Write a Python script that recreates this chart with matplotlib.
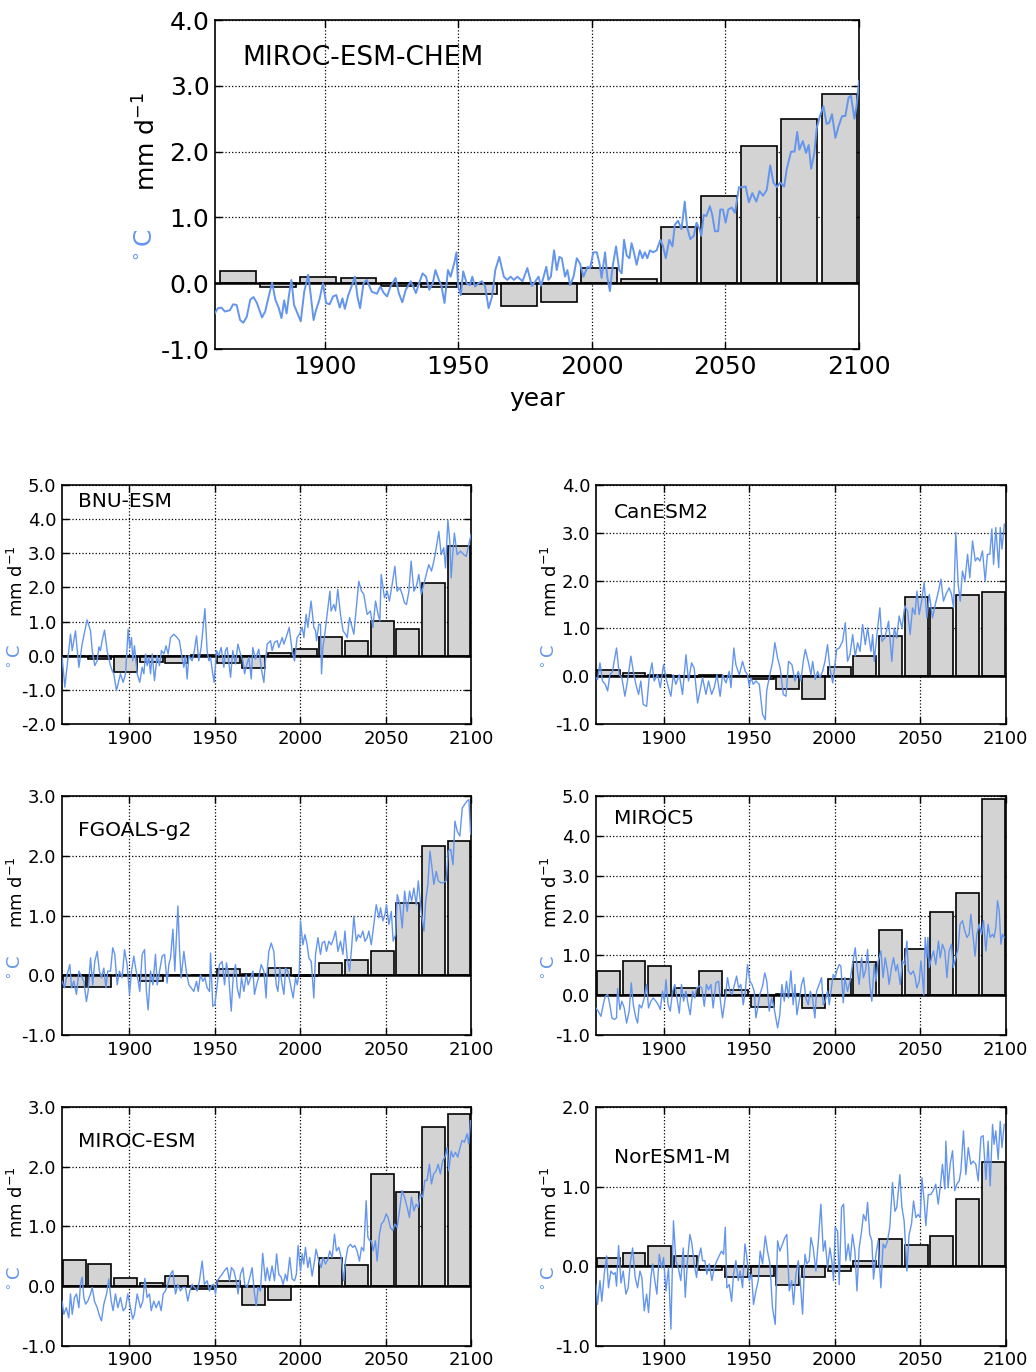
import matplotlib
matplotlib.use('Agg')
import matplotlib.pyplot as plt

plt.rcParams['font.family'] = ['DejaVu Sans']
plt.rcParams['mathtext.default'] = 'regular'

# start year of each 15-year period (bars)
period_start = [1861, 1876, 1891, 1906, 1921, 1936, 1951, 1966,
                1981, 1996, 2011, 2026, 2041, 2056, 2071, 2086]

# precipitation anomaly per period (mm/d)
chem_bars = [0.19, -0.06, 0.09, 0.08, -0.04, -0.06, -0.17, -0.34,
             -0.28, 0.23, 0.06, 0.86, 1.32, 2.09, 2.49, 2.88]
bnu_bars = [0.0, -0.1, -0.49, -0.17, -0.21, 0.02, -0.21, -0.37,
            0.09, 0.19, 0.55, 0.42, 1.02, 0.78, 2.12, 3.2]
can_bars = [0.12, 0.06, 0.03, -0.01, 0.02, 0.01, -0.06, -0.27,
            -0.48, 0.19, 0.42, 0.85, 1.66, 1.42, 1.7, 1.76]
fgoals_bars = [-0.19, -0.2, 0.0, -0.1, 0.0, 0.0, 0.11, 0.02,
               0.12, -0.02, 0.21, 0.26, 0.41, 1.21, 2.17, 2.25]
miroc5_bars = [0.61, 0.87, 0.74, 0.18, 0.6, 0.13, -0.29, 0.03,
               -0.32, 0.41, 0.83, 1.63, 1.17, 2.09, 2.56, 4.92]
mesm_bars = [0.44, 0.37, 0.13, 0.06, 0.17, -0.05, 0.08, -0.32,
             -0.23, 0.01, 0.47, 0.35, 1.87, 1.58, 2.67, 2.89]
nor_bars = [0.1, 0.17, 0.26, 0.13, -0.05, -0.13, -0.12, -0.23,
            -0.13, -0.06, 0.07, 0.34, 0.27, 0.38, 0.84, 1.31]

# temperature anomaly (year, degC)
chem_line = [
    (1858.6, -0.48), (1860.1, -0.38), (1861.4, -0.37), (1862.7, -0.43), (1864.6, -0.41),
    (1865.8, -0.32), (1867.1, -0.33), (1868.4, -0.56), (1869.6, -0.6), (1870.9, -0.51),
    (1872.2, -0.25), (1873.4, -0.21), (1874.7, -0.3), (1876.6, -0.52), (1877.8, -0.43),
    (1879.1, -0.2), (1880.4, 0.01), (1881.6, -0.25), (1882.9, -0.38), (1883.9, -0.53),
    (1884.9, -0.26), (1885.8, -0.46), (1886.7, -0.18), (1887.6, 0.05), (1888.6, -0.33),
    (1889.6, -0.43), (1891.1, -0.58), (1892.4, -0.13), (1893.9, 0.13), (1894.9, -0.2),
    (1895.9, -0.56), (1896.8, -0.41), (1898.1, -0.25), (1899.4, 0.0), (1900.6, -0.3),
    (1901.9, -0.32), (1903.2, -0.2), (1904.4, -0.18), (1905.7, -0.37), (1906.7, -0.23),
    (1907.6, -0.39), (1908.9, -0.18), (1910.1, -0.05), (1911.4, 0.1), (1912.3, -0.2),
    (1913.3, -0.38), (1914.6, 0.0), (1915.8, 0.05), (1917.7, -0.13), (1919.6, -0.16),
    (1920.9, -0.05), (1922.2, -0.15), (1923.4, -0.2), (1924.7, -0.05), (1926.6, 0.08),
    (1927.8, -0.15), (1929.1, -0.29), (1930.4, -0.1), (1932.3, 0.03), (1934.2, -0.15),
    (1935.4, 0.0), (1936.7, 0.15), (1938.0, 0.1), (1939.2, -0.1), (1940.5, 0.0),
    (1941.5, 0.2), (1942.8, 0.05), (1943.7, -0.03), (1944.9, -0.3), (1946.2, 0.2),
    (1947.2, 0.1), (1948.5, 0.3), (1949.4, 0.47), (1950.0, -0.05), (1951.0, -0.18),
    (1951.9, 0.18), (1953.2, 0.0), (1954.4, -0.03), (1955.3, 0.1), (1956.3, -0.05),
    (1957.6, 0.0), (1958.9, 0.03), (1960.1, -0.05), (1961.4, -0.38), (1962.7, -0.2),
    (1963.9, 0.2), (1965.4, 0.4), (1967.1, 0.1), (1968.4, 0.05), (1969.6, 0.1),
    (1970.9, 0.05), (1972.2, 0.1), (1974.1, 0.03), (1975.9, 0.23), (1977.6, -0.04),
    (1978.9, 0.03), (1980.1, 0.1), (1981.0, -0.04), (1982.0, 0.1), (1983.0, 0.25),
    (1983.8, 0.05), (1984.7, 0.1), (1985.9, 0.5), (1986.9, 0.2), (1987.9, 0.4),
    (1988.8, 0.38), (1990.0, 0.1), (1990.9, 0.2), (1991.9, -0.03), (1993.2, 0.1),
    (1994.4, 0.38), (1995.6, 0.3), (1996.9, 0.1), (1998.4, 0.25), (1999.4, 0.23),
    (2000.6, 0.47), (2001.9, 0.47), (2002.9, 0.3), (2003.7, 0.08), (2005.0, 0.47),
    (2005.8, 0.1), (2006.8, -0.12), (2007.8, 0.25), (2009.1, 0.56), (2010.3, 0.2),
    (2011.2, 0.15), (2012.1, 0.66), (2013.1, 0.42), (2014.1, 0.38), (2014.9, 0.61),
    (2015.8, 0.47), (2016.8, 0.28), (2018.0, 0.5), (2019.0, 0.38), (2019.9, 0.47),
    (2020.8, 0.38), (2021.8, 0.5), (2023.0, 0.47), (2024.3, 0.5), (2025.7, 0.66),
    (2026.7, 0.56), (2027.7, 0.38), (2029.0, 0.66), (2030.2, 0.56), (2031.1, 0.89),
    (2032.3, 0.95), (2033.6, 0.82), (2034.8, 1.24), (2035.7, 0.85), (2036.9, 0.67),
    (2038.2, 0.72), (2039.2, 0.92), (2040.4, 0.82), (2041.0, 0.72), (2041.9, 1.04),
    (2042.9, 1.02), (2044.2, 1.17), (2045.1, 1.04), (2046.1, 0.79), (2047.3, 0.79),
    (2048.1, 1.12), (2049.1, 1.12), (2050.1, 0.92), (2051.1, 1.12), (2052.4, 1.15),
    (2053.6, 1.07), (2055.1, 1.46), (2056.6, 1.46), (2057.6, 1.47), (2058.8, 1.23),
    (2060.1, 1.37), (2061.6, 1.24), (2062.8, 1.4), (2064.1, 1.33), (2065.5, 1.42),
    (2066.8, 1.79), (2068.0, 1.53), (2069.3, 1.46), (2070.5, 1.53), (2072.0, 1.47),
    (2073.0, 1.74), (2074.6, 2.0), (2075.9, 2.0), (2076.9, 2.3), (2077.7, 2.03),
    (2079.0, 2.16), (2080.2, 1.98), (2081.2, 2.1), (2082.1, 1.74), (2083.3, 1.98),
    (2084.2, 2.36), (2085.4, 2.54), (2086.7, 2.69), (2087.9, 2.42), (2088.9, 2.44),
    (2089.9, 2.57), (2091.2, 2.21), (2092.4, 2.39), (2093.7, 2.54), (2094.9, 2.54),
    (2096.1, 2.82), (2097.0, 2.85), (2098.3, 2.5), (2099.1, 2.69), (2100.0, 3.07)]

bnu_line = [
    (1860.6, -0.05), (1862.2, -0.92), (1865.5, 0.63), (1866.5, 0.15), (1868.4, 0.73),
    (1870.4, -0.34), (1872.3, 0.34), (1874.3, 0.83), (1875.2, 1.05), (1877.2, 0.73),
    (1878.2, 0.15), (1879.7, -0.29), (1881.1, -0.15), (1882.1, 0.26), (1883.0, 0.15),
    (1884.0, 0.44), (1885.4, 0.75), (1886.9, 0.15), (1888.9, -0.29), (1889.9, -0.44),
    (1890.8, -0.53), (1892.4, -1.02), (1893.8, -0.73), (1894.7, -0.53), (1896.3, -0.78),
    (1897.7, -0.53), (1899.2, 0.78), (1900.2, 0.24), (1901.2, 0.53), (1901.9, -0.15),
    (1902.9, 0.29), (1904.5, -0.53), (1906.0, -0.78), (1907.4, -0.34), (1908.4, -0.53),
    (1909.4, 0.05), (1910.3, -0.29), (1911.3, -0.05), (1912.3, -0.53), (1913.3, 0.05),
    (1914.6, -0.73), (1916.2, 0.0), (1917.5, -0.29), (1918.7, 0.15), (1920.1, 0.05),
    (1921.4, 0.29), (1922.6, 0.05), (1924.0, 0.53), (1925.9, 0.63), (1927.9, 0.53),
    (1929.2, 0.44), (1930.4, 0.05), (1931.8, -0.34), (1932.7, 0.0), (1933.7, -0.68),
    (1934.7, 0.0), (1936.6, -0.15), (1937.6, 0.05), (1939.2, 0.58), (1940.5, -0.15),
    (1941.9, 0.24), (1944.1, 1.38), (1945.4, 0.15), (1946.4, -0.15), (1947.4, -0.05),
    (1948.7, -0.53), (1949.5, -0.78), (1950.9, 0.15), (1952.2, 0.0), (1953.6, 0.24),
    (1955.2, -0.34), (1956.1, 0.15), (1957.1, 0.24), (1959.1, -0.63), (1960.4, 0.15),
    (1962.0, -0.24), (1963.4, 0.34), (1964.9, 0.05), (1966.3, -0.15), (1967.3, -0.53),
    (1968.4, -0.29), (1969.8, -0.05), (1971.2, -0.68), (1972.1, 0.24), (1973.7, -0.1),
    (1975.6, 0.19), (1977.6, -0.53), (1978.6, -0.78), (1979.5, -0.15), (1980.5, 0.34),
    (1982.5, 0.44), (1983.4, 0.15), (1984.8, 0.39), (1986.4, 0.44), (1987.3, 0.24),
    (1989.3, 0.53), (1990.3, 0.34), (1992.2, 0.63), (1993.4, 0.83), (1995.1, 0.15),
    (1996.5, -0.15), (1998.0, 0.53), (1999.4, 0.63), (2001.0, 0.83), (2002.0, 0.53),
    (2003.3, 1.21), (2004.3, 0.83), (2006.2, 1.6), (2007.8, 0.83), (2008.8, 0.73),
    (2009.4, 0.44), (2010.7, 0.92), (2011.7, 0.92), (2012.3, -0.53), (2013.1, 0.24),
    (2014.2, 0.63), (2017.2, 1.89), (2017.9, 1.31), (2019.5, 1.5), (2020.5, 1.31),
    (2021.8, 1.94), (2023.4, 1.21), (2024.9, 0.73), (2026.3, 0.63), (2027.3, 0.53),
    (2028.7, 1.12), (2031.2, 0.63), (2034.1, 2.18), (2035.7, 1.89), (2037.0, 1.8),
    (2039.0, 1.21), (2040.9, 1.31), (2042.3, 0.83), (2043.9, 1.6), (2045.4, 1.21),
    (2046.4, 1.02), (2047.2, 2.38), (2049.1, 1.7), (2050.7, 1.89), (2052.0, 1.6),
    (2053.6, 2.09), (2055.2, 2.62), (2056.5, 1.89), (2058.1, 1.99), (2059.5, 1.8),
    (2060.8, 1.55), (2062.0, 1.5), (2063.4, 1.89), (2064.7, 2.77), (2066.3, 1.89),
    (2067.8, 2.04), (2069.2, 2.38), (2070.6, 1.8), (2072.1, 2.09), (2075.0, 2.67),
    (2076.6, 2.48), (2078.0, 2.77), (2078.9, 3.01), (2080.9, 3.64), (2082.3, 2.96),
    (2083.8, 3.16), (2084.8, 2.57), (2086.2, 3.98), (2087.3, 3.35), (2088.1, 2.28),
    (2089.1, 3.01), (2090.0, 3.59), (2091.6, 2.96), (2093.6, 3.06), (2095.5, 2.96),
    (2096.9, 2.91), (2098.4, 3.25), (2099.8, 3.56)]

can_line = [
    (1860.4, -0.03), (1861.4, -0.07), (1862.8, 0.28), (1864.3, -0.1), (1865.9, -0.17),
    (1867.3, -0.31), (1868.6, 0.03), (1870.2, 0.1), (1871.1, 0.31), (1872.5, 0.59),
    (1874.1, 0.03), (1875.6, -0.03), (1877.4, -0.42), (1878.9, -0.1), (1880.9, 0.42),
    (1882.3, 0.1), (1883.8, -0.17), (1885.4, -0.38), (1886.7, -0.1), (1888.1, -0.59),
    (1890.1, -0.63), (1891.6, -0.03), (1893.2, 0.28), (1894.5, -0.1), (1896.5, 0.03),
    (1898.1, -0.24), (1900.0, 0.24), (1901.4, -0.03), (1902.9, -0.24), (1904.3, -0.42),
    (1905.7, 0.03), (1907.2, -0.17), (1909.2, 0.03), (1911.1, -0.38), (1913.1, 0.45),
    (1914.6, -0.1), (1916.4, 0.28), (1917.9, 0.17), (1919.9, -0.56), (1921.3, -0.31),
    (1922.8, -0.03), (1924.8, -0.38), (1926.3, -0.1), (1928.1, -0.38), (1929.6, -0.24),
    (1931.2, 0.03), (1933.1, -0.42), (1934.5, 0.03), (1936.5, -0.14), (1938.4, 0.1),
    (1939.4, -0.24), (1941.1, 0.59), (1942.3, 0.24), (1944.3, 0.03), (1946.2, 0.31),
    (1947.8, 0.1), (1949.1, 0.03), (1950.1, -0.21), (1951.1, -0.03), (1952.5, -0.17),
    (1954.0, -0.1), (1956.0, -0.17), (1957.9, -0.8), (1959.5, -0.91), (1960.3, -0.31),
    (1961.8, -0.03), (1963.8, 0.31), (1965.1, 0.7), (1966.7, 0.38), (1968.2, 0.17),
    (1970.0, -0.38), (1971.6, -0.42), (1973.1, 0.31), (1975.1, 0.24), (1976.8, -0.1),
    (1978.8, 0.1), (1980.3, -0.1), (1981.7, 0.31), (1982.9, 0.56), (1984.6, 0.31),
    (1986.2, 0.03), (1987.2, 0.31), (1988.7, -0.07), (1990.1, 0.1), (1991.5, -0.03),
    (1993.0, 0.1), (1994.4, 0.31), (1995.9, 0.66), (1997.3, 0.17), (1998.9, -0.14),
    (1999.8, 0.1), (2001.2, 0.56), (2002.8, 0.59), (2004.7, 0.73), (2006.3, 1.12),
    (2007.6, 0.31), (2009.0, 0.45), (2010.6, 0.87), (2012.1, 0.42), (2013.5, 0.7),
    (2014.9, 0.52), (2016.4, 1.08), (2018.0, 0.66), (2019.3, 1.01), (2021.3, 0.52),
    (2022.3, 0.87), (2023.2, 0.31), (2025.2, 1.01), (2026.5, 1.43), (2027.7, 0.73),
    (2029.4, 0.8), (2031.6, 1.15), (2033.5, 0.31), (2034.9, 1.01), (2036.3, 0.8),
    (2037.8, 1.26), (2039.4, 1.01), (2041.1, 1.47), (2042.7, 1.36), (2044.2, 0.87),
    (2045.6, 1.43), (2047.0, 1.29), (2048.2, 1.78), (2049.5, 1.29), (2050.9, 1.57),
    (2052.4, 1.96), (2054.0, 1.22), (2055.4, 1.71), (2057.3, 1.22), (2058.9, 1.5),
    (2060.8, 1.78), (2062.2, 2.03), (2063.7, 1.57), (2065.1, 1.71), (2067.0, 1.85),
    (2068.4, 1.71), (2069.6, 1.43), (2070.9, 3.01), (2072.3, 1.92), (2073.5, 1.57),
    (2074.8, 2.2), (2076.2, 1.99), (2077.8, 2.55), (2079.1, 2.06), (2080.7, 2.83),
    (2082.3, 2.41), (2083.6, 2.48), (2085.0, 2.41), (2086.5, 2.62), (2088.1, 1.99),
    (2089.4, 2.55), (2090.8, 2.55), (2092.0, 3.08), (2093.0, 2.34), (2094.3, 3.11),
    (2096.0, 2.27), (2096.9, 3.11), (2097.9, 2.66), (2099.3, 3.18)]

fgoals_line = [
    (1860.6, -0.1), (1862.0, -0.21), (1863.5, 0.01), (1865.1, 0.18), (1866.1, -0.21),
    (1867.4, -0.1), (1869.0, -0.32), (1870.4, 0.07), (1871.9, -0.02), (1873.3, -0.1),
    (1874.8, -0.44), (1875.8, -0.27), (1877.2, 0.29), (1878.5, -0.16), (1879.7, 0.23),
    (1881.1, 0.4), (1882.4, 0.07), (1883.6, -0.04), (1885.0, 0.12), (1886.2, -0.21),
    (1887.3, 0.07), (1888.9, 0.07), (1890.2, 0.46), (1891.4, 0.35), (1892.8, -0.16),
    (1894.1, 0.07), (1895.7, -0.04), (1897.1, 0.43), (1898.6, 0.18), (1900.0, -0.32),
    (1901.2, 0.07), (1902.5, 0.32), (1903.9, 0.07), (1905.1, -0.1), (1906.0, -0.27),
    (1907.4, 0.35), (1908.8, 0.43), (1909.9, -0.27), (1910.9, -0.58), (1912.3, 0.07),
    (1913.7, -0.16), (1915.2, 0.35), (1916.2, -0.16), (1917.6, 0.07), (1919.1, 0.32),
    (1920.5, 0.35), (1922.0, -0.13), (1923.0, 0.18), (1924.0, 0.29), (1925.4, 0.77),
    (1926.5, 0.07), (1928.3, 1.16), (1929.3, 0.4), (1930.2, -0.04), (1931.8, 0.4),
    (1933.2, 0.07), (1934.7, -0.16), (1936.1, -0.21), (1937.6, -0.27), (1939.2, -0.1),
    (1940.2, -0.27), (1941.5, 0.01), (1942.9, -0.1), (1944.1, -0.04), (1945.4, -0.21),
    (1946.8, -0.27), (1947.4, 0.37), (1948.7, -0.52), (1949.9, -0.49), (1951.3, -0.16),
    (1952.6, 0.18), (1954.2, 0.23), (1955.6, -0.16), (1956.7, 0.21), (1958.1, -0.04),
    (1959.5, -0.6), (1960.6, -0.04), (1962.0, 0.18), (1963.0, -0.21), (1964.4, -0.38),
    (1965.5, -0.04), (1966.9, -0.27), (1968.3, 0.01), (1969.4, -0.16), (1970.8, -0.04),
    (1972.2, 0.07), (1973.1, -0.32), (1974.3, -0.16), (1975.7, -0.02), (1977.0, 0.18),
    (1978.6, 0.07), (1979.9, -0.38), (1980.5, 0.07), (1981.5, 0.4), (1982.9, 0.54),
    (1984.4, 0.4), (1985.8, -0.16), (1986.8, -0.27), (1987.9, 0.12), (1989.3, -0.16),
    (1990.3, -0.32), (1991.3, 0.12), (1992.6, 0.07), (1994.2, -0.16), (1995.7, -0.38),
    (1997.1, -0.04), (1998.1, -0.16), (1999.3, 0.07), (2000.0, 0.91), (2001.4, 0.51),
    (2002.6, 0.68), (2003.9, 0.51), (2004.9, 0.29), (2006.3, 0.23), (2007.8, -0.38),
    (2008.8, 0.35), (2010.2, 0.63), (2011.7, 0.35), (2012.7, 0.54), (2014.1, 0.57),
    (2015.2, 0.4), (2016.6, 0.57), (2018.0, 0.51), (2019.5, 0.63), (2020.5, 0.74),
    (2021.9, 0.4), (2023.4, 0.57), (2024.8, 0.35), (2026.0, 0.74), (2027.3, 0.29),
    (2028.7, 0.07), (2029.9, 0.46), (2031.2, 0.99), (2032.6, 0.57), (2033.8, 0.68),
    (2035.1, 0.63), (2036.5, 0.74), (2037.7, 0.57), (2039.0, 0.63), (2040.0, 0.74),
    (2041.4, 0.51), (2042.9, 0.85), (2044.3, 1.18), (2045.9, 0.96), (2046.8, 1.13),
    (2048.2, 0.91), (2049.4, 1.02), (2050.3, 1.18), (2051.7, 0.85), (2053.1, 1.07),
    (2054.2, 0.57), (2055.6, 0.68), (2056.6, 1.35), (2058.1, 1.18), (2059.5, 0.79),
    (2060.9, 1.41), (2062.4, 1.07), (2063.8, 1.41), (2065.0, 1.24), (2066.3, 1.46),
    (2067.7, 1.18), (2068.9, 1.58), (2070.6, 1.07), (2072.2, 0.74), (2073.2, 1.24),
    (2074.5, 1.52), (2075.7, 2.08), (2076.7, 1.85), (2078.0, 1.52), (2079.4, 1.74),
    (2080.6, 1.58), (2081.9, 1.55), (2083.5, 1.55), (2085.2, 1.58), (2086.4, 2.08),
    (2087.8, 2.11), (2089.2, 1.85), (2090.3, 2.58), (2091.7, 2.41), (2093.2, 2.33),
    (2094.6, 2.8), (2096.0, 2.86), (2097.5, 2.92), (2098.5, 2.94), (2099.5, 2.36)]

miroc5_line = [
    (1860.4, -0.32), (1861.8, -0.4), (1863.4, -0.53), (1864.7, -0.24), (1865.9, -0.03),
    (1867.3, 0.02), (1868.6, -0.24), (1869.8, -0.57), (1871.2, -0.61), (1872.5, -0.57),
    (1873.1, 0.17), (1874.5, -0.36), (1875.6, -0.15), (1877.0, -0.32), (1878.4, -0.7),
    (1879.9, -0.4), (1881.1, 0.31), (1882.3, -0.24), (1883.8, -0.57), (1884.8, -0.7),
    (1885.8, -0.24), (1887.1, -0.32), (1888.7, -0.07), (1890.1, 0.27), (1891.2, -0.32),
    (1892.6, -0.15), (1894.0, -0.07), (1895.5, -0.15), (1896.9, -0.24), (1898.1, -0.36),
    (1899.4, 0.1), (1900.4, -0.15), (1901.4, 0.39), (1902.7, -0.24), (1903.9, -0.4),
    (1905.3, 0.1), (1906.6, 0.27), (1907.8, -0.07), (1909.2, -0.45), (1910.5, 0.27),
    (1911.7, -0.15), (1913.1, 0.1), (1914.4, -0.24), (1915.6, -0.49), (1917.0, 0.1),
    (1918.3, -0.07), (1919.3, 0.18), (1920.9, 0.23), (1922.4, 0.18), (1923.8, -0.28),
    (1925.1, 0.27), (1926.3, 0.14), (1927.7, 0.27), (1929.0, -0.32), (1930.6, 0.31),
    (1932.2, 0.35), (1933.5, -0.24), (1934.5, -0.57), (1936.1, -0.07), (1937.4, 0.44),
    (1938.8, 0.1), (1940.0, 0.02), (1941.3, 0.23), (1942.7, 0.48), (1943.9, 0.18),
    (1945.2, 0.27), (1946.6, -0.24), (1947.8, 0.1), (1949.1, 0.77), (1950.5, 0.35),
    (1951.7, 0.27), (1953.0, 0.1), (1954.0, -0.57), (1955.4, -0.24), (1956.3, 0.02),
    (1957.9, 0.23), (1959.2, 0.56), (1960.4, 0.35), (1961.8, -0.4), (1963.2, -0.07),
    (1964.3, -0.24), (1965.7, -0.57), (1966.7, -0.82), (1968.0, -0.49), (1969.2, 0.27),
    (1970.6, -0.15), (1971.9, 0.35), (1973.1, -0.07), (1974.5, 0.61), (1975.8, -0.24),
    (1976.8, 0.27), (1978.0, -0.49), (1979.3, -0.15), (1980.7, 0.27), (1981.9, 0.44),
    (1983.2, -0.07), (1984.6, -0.24), (1985.8, 0.1), (1987.1, -0.07), (1988.5, -0.57),
    (1989.5, 0.1), (1991.0, 0.27), (1992.4, 0.44), (1993.4, -0.24), (1994.5, -0.15),
    (1995.9, 0.1), (1996.9, -0.24), (1997.8, 0.06), (1999.2, 0.52), (2000.4, 0.44),
    (2001.3, 0.61), (2002.7, 0.77), (2003.7, 0.73), (2005.1, -0.19), (2006.0, 0.44),
    (2007.6, 0.1), (2009.0, 0.35), (2010.5, 0.77), (2012.1, 1.19), (2013.4, 0.61),
    (2014.4, 0.27), (2015.8, 0.94), (2016.9, 0.44), (2018.3, 0.65), (2019.3, 1.15),
    (2020.6, 0.27), (2021.8, -0.15), (2023.2, 0.77), (2024.2, 0.35), (2025.5, 0.86),
    (2027.1, 1.11), (2028.4, 0.44), (2029.6, 0.94), (2031.0, 0.61), (2031.9, 0.27),
    (2033.3, 0.69), (2034.5, 0.94), (2035.8, 0.61), (2036.8, 0.77), (2038.4, 0.27),
    (2039.7, 0.86), (2041.1, 0.77), (2042.3, 1.36), (2043.2, 0.61), (2044.6, 0.52),
    (2046.0, 0.61), (2047.0, 0.48), (2048.1, 0.18), (2049.5, 0.35), (2050.5, 0.86),
    (2051.4, 0.44), (2052.2, 0.0), (2053.0, 1.45), (2054.0, 0.94), (2054.6, 1.45),
    (2055.4, 0.69), (2056.7, 0.94), (2057.9, 1.11), (2059.2, 0.77), (2060.8, 1.36),
    (2061.8, 0.94), (2063.1, 1.28), (2064.5, 1.11), (2065.7, 0.44), (2067.0, 1.11),
    (2068.4, 1.28), (2069.4, 0.69), (2070.9, 0.94), (2072.3, 1.19), (2073.4, 1.78),
    (2074.8, 1.87), (2076.2, 1.61), (2077.4, 1.45), (2078.7, 1.53), (2079.7, 2.03),
    (2081.1, 1.45), (2082.2, 0.98), (2083.2, 1.53), (2084.6, 1.78), (2085.9, 1.53),
    (2087.1, 1.87), (2088.5, 1.11), (2089.8, 1.78), (2091.0, 1.45), (2092.4, 1.53),
    (2093.3, 1.45), (2094.3, 1.7), (2095.3, 2.37), (2096.3, 2.12), (2097.3, 1.28),
    (2098.2, 1.53), (2099.2, 1.45)]

mesm_line = [
    (1860.6, -0.25), (1861.6, -0.47), (1863.0, -0.36), (1864.5, -0.53), (1865.5, -0.13),
    (1866.5, -0.47), (1867.8, -0.19), (1869.0, -0.13), (1870.4, -0.36), (1871.3, 0.03),
    (1872.3, 0.15), (1873.3, -0.19), (1874.3, -0.3), (1875.6, -0.25), (1877.2, -0.13),
    (1878.2, -0.02), (1879.5, -0.25), (1881.1, -0.36), (1882.5, -0.5), (1883.6, -0.58),
    (1885.0, -0.3), (1886.6, -0.13), (1887.9, 0.12), (1889.3, -0.25), (1890.4, -0.41),
    (1891.8, -0.13), (1893.2, -0.36), (1894.7, -0.19), (1896.3, -0.41), (1897.7, -0.36),
    (1899.0, -0.13), (1900.6, -0.36), (1901.9, -0.55), (1902.9, -0.47), (1904.5, -0.13),
    (1905.5, -0.25), (1906.4, -0.36), (1907.8, -0.25), (1909.0, 0.13), (1910.3, -0.19),
    (1911.7, -0.13), (1912.7, -0.41), (1914.2, -0.25), (1915.6, -0.36), (1917.2, -0.25),
    (1918.5, -0.41), (1919.7, -0.13), (1921.0, -0.08), (1922.4, 0.03), (1924.0, 0.2),
    (1925.3, 0.26), (1926.9, -0.13), (1928.3, 0.03), (1929.8, -0.08), (1931.2, -0.02),
    (1932.7, -0.02), (1934.1, -0.25), (1935.3, -0.08), (1936.6, 0.03), (1938.0, -0.02),
    (1939.6, -0.08), (1940.9, 0.09), (1942.5, 0.42), (1943.8, 0.03), (1945.4, 0.09),
    (1946.8, -0.08), (1947.9, 0.01), (1949.3, 0.03), (1950.3, -0.13), (1951.3, 0.09),
    (1952.8, 0.15), (1954.2, 0.2), (1955.5, 0.26), (1957.1, 0.31), (1958.5, 0.09),
    (1959.6, 0.31), (1961.0, 0.26), (1962.4, 0.09), (1963.5, -0.13), (1964.9, 0.2),
    (1966.3, 0.31), (1967.4, 0.03), (1968.8, -0.02), (1970.4, 0.15), (1971.7, 0.31),
    (1973.1, -0.13), (1974.1, -0.33), (1975.2, -0.02), (1976.6, -0.08), (1977.9, 0.55),
    (1979.5, 0.09), (1980.5, 0.31), (1981.9, 0.09), (1983.4, 0.34), (1984.8, 0.09),
    (1986.0, 0.54), (1987.3, 0.2), (1988.7, 0.15), (1989.8, 0.03), (1991.2, 0.2),
    (1992.2, 0.09), (1993.7, 0.48), (1995.1, 0.12), (1996.5, 0.09), (1997.6, 0.2),
    (1998.6, 0.68), (2000.0, 0.26), (2001.0, 0.54), (2001.9, 0.37), (2002.9, 0.65),
    (2004.3, 0.31), (2005.4, 0.48), (2006.8, 0.17), (2008.2, 0.42), (2009.1, 0.62),
    (2010.7, 0.42), (2012.1, 0.31), (2013.2, 0.48), (2014.6, 0.37), (2016.0, 0.45),
    (2017.1, 0.59), (2018.5, 0.48), (2019.9, 0.87), (2021.0, 0.59), (2022.4, 0.65),
    (2023.8, 0.48), (2025.3, 0.09), (2026.3, 0.42), (2027.7, 0.65), (2029.2, 0.7),
    (2030.6, 0.65), (2031.8, 0.68), (2033.1, 0.59), (2034.5, 0.42), (2035.7, 0.65),
    (2037.0, 0.59), (2038.4, 1.43), (2039.4, 0.82), (2040.5, 0.76), (2041.5, 0.76),
    (2042.5, 0.59), (2043.8, 0.76), (2044.8, 0.42), (2046.2, 0.87), (2047.3, 1.04),
    (2048.7, 1.09), (2050.1, 1.21), (2051.2, 1.15), (2052.6, 0.98), (2054.0, 0.93),
    (2055.1, 1.04), (2056.5, 0.98), (2057.9, 1.26), (2059.4, 1.6), (2060.8, 1.49),
    (2062.4, 1.32), (2063.7, 1.15), (2064.9, 1.49), (2066.3, 1.26), (2067.6, 1.37),
    (2068.8, 1.32), (2070.1, 1.54), (2071.5, 1.49), (2072.7, 1.77), (2074.0, 1.77),
    (2075.4, 2.04), (2076.6, 1.71), (2077.9, 1.88), (2079.3, 1.93), (2080.5, 2.04),
    (2081.8, 1.88), (2083.2, 2.1), (2084.8, 2.18), (2085.7, 2.32), (2086.7, 1.93),
    (2088.1, 2.26), (2089.2, 2.16), (2090.6, 2.24), (2092.0, 2.16), (2093.1, 2.3),
    (2094.5, 2.44), (2095.9, 2.41), (2097.4, 2.55), (2098.4, 2.38), (2099.4, 2.77)]

nor_line = [
    (1860.4, -0.23), (1861.4, -0.48), (1862.8, -0.18), (1863.9, -0.44), (1865.3, -0.1),
    (1866.7, 0.13), (1867.8, -0.27), (1869.2, -0.06), (1870.6, -0.1), (1871.7, -0.08),
    (1872.5, -0.25), (1873.7, 0.26), (1875.1, -0.21), (1876.4, -0.06), (1878.0, -0.35),
    (1879.3, -0.27), (1880.5, 0.03), (1881.9, 0.23), (1883.4, -0.14), (1884.8, -0.27),
    (1886.2, -0.06), (1887.3, -0.14), (1888.7, -0.56), (1890.1, -0.35), (1891.2, -0.58),
    (1892.6, -0.14), (1893.6, 0.03), (1894.9, -0.18), (1896.1, -0.35), (1897.5, 0.15),
    (1898.8, -0.02), (1900.0, 0.11), (1901.4, -0.31), (1902.9, -0.02), (1904.3, -0.79),
    (1905.8, 0.57), (1907.2, 0.07), (1908.6, -0.02), (1910.1, -0.18), (1911.5, 0.23),
    (1912.7, -0.39), (1914.0, 0.07), (1915.4, 0.4), (1916.6, 0.28), (1917.9, 0.03),
    (1919.3, -0.14), (1920.5, 0.11), (1921.8, 0.23), (1922.8, 0.07), (1924.2, 0.07),
    (1925.3, -0.1), (1926.7, 0.03), (1928.3, -0.18), (1929.6, -0.02), (1931.2, 0.07),
    (1932.5, 0.13), (1933.9, 0.19), (1935.1, 0.15), (1936.1, 0.49), (1937.0, -0.27),
    (1938.4, -0.23), (1939.8, -0.44), (1940.9, -0.1), (1942.3, 0.07), (1943.7, -0.18),
    (1944.8, -0.06), (1946.2, -0.27), (1947.6, 0.28), (1948.5, 0.15), (1950.1, -0.18),
    (1951.5, -0.1), (1952.6, -0.48), (1954.0, -0.31), (1955.4, -0.18), (1956.5, 0.19),
    (1957.9, 0.03), (1959.5, 0.38), (1960.8, 0.19), (1962.2, 0.03), (1963.7, -0.52),
    (1965.3, -0.73), (1966.7, 0.32), (1968.0, 0.19), (1969.6, 0.28), (1970.9, 0.36),
    (1972.1, 0.4), (1973.5, -0.31), (1974.9, -0.18), (1976.0, -0.48), (1977.4, -0.1),
    (1978.8, 0.07), (1979.9, -0.18), (1981.3, -0.6), (1982.7, 0.15), (1983.8, 0.03),
    (1985.2, 0.07), (1986.2, 0.36), (1987.5, 0.23), (1989.1, -0.06), (1990.4, 0.28),
    (1992.0, 0.78), (1993.4, 0.19), (1994.5, 0.32), (1995.9, -0.02), (1997.3, 0.23),
    (1998.4, 0.07), (1999.4, -0.18), (2000.4, 0.49), (2001.8, 0.44), (2002.7, -0.23),
    (2004.1, 0.74), (2005.3, 0.78), (2006.6, 0.07), (2008.0, 0.28), (2009.2, 0.07),
    (2010.5, 0.4), (2011.9, 0.19), (2013.1, -0.31), (2014.4, 0.23), (2015.8, 0.44),
    (2016.9, 0.65), (2018.3, 0.57), (2019.3, 0.8), (2020.6, 0.4), (2021.8, 0.32),
    (2022.8, -0.16), (2024.2, 0.15), (2025.5, 0.32), (2027.1, -0.27), (2028.4, 0.28),
    (2029.6, 0.23), (2031.0, 0.32), (2032.3, 0.49), (2033.9, 1.05), (2035.3, 0.69),
    (2036.4, 0.74), (2038.2, 1.15), (2039.4, 0.74), (2040.7, 0.57), (2042.3, -0.06),
    (2043.6, 0.4), (2045.0, 0.53), (2046.2, 0.82), (2047.6, 0.61), (2048.9, 0.65),
    (2050.1, 0.61), (2051.1, 1.11), (2052.4, 0.82), (2053.4, 0.51), (2054.8, 0.9),
    (2056.3, 0.9), (2057.7, 0.95), (2059.2, 1.03), (2060.6, 0.78), (2061.8, 0.99),
    (2063.1, 1.28), (2064.5, 0.97), (2065.1, 1.57), (2066.4, 0.99), (2067.6, 1.28),
    (2069.0, 1.45), (2070.3, 0.95), (2071.5, 1.03), (2072.9, 1.07), (2073.9, 1.2),
    (2075.4, 1.7), (2076.8, 1.15), (2078.2, 1.49), (2079.7, 1.28), (2081.1, 1.32),
    (2082.6, 1.28), (2084.0, 1.07), (2085.6, 1.62), (2086.9, 1.64), (2088.5, 1.09),
    (2089.8, 1.57), (2091.0, 1.01), (2092.4, 1.78), (2093.3, 1.53), (2094.3, 1.7),
    (2095.7, 1.34), (2096.9, 1.82), (2097.9, 1.49), (2099.2, 1.78)]

BAR_FC = '#d3d3d3'
LINE_C = '#6495ED'


def draw_panel(ax, line, bars, ylim, name, name_xy, fs, name_fs, xlim, lw):
    ax.set_axisbelow(True)
    ax.grid(True, linestyle=':', color='k', linewidth=0.9)
    ax.bar(period_start, bars, width=13.4, align='edge', color=BAR_FC,
           edgecolor='k', linewidth=1.2, zorder=2)
    ax.axhline(0, color='k', linewidth=1.8, zorder=3)
    yrs = [p[0] for p in line]
    vals = [p[1] for p in line]
    ax.plot(yrs, vals, color=LINE_C, linewidth=lw, zorder=4)
    ax.set_xlim(*xlim)
    ax.set_ylim(*ylim)
    ax.set_xticks([1900, 1950, 2000, 2050, 2100])
    ax.set_yticks(range(ylim[0], ylim[1] + 1))
    ax.set_yticklabels(['%.1f' % v for v in range(ylim[0], ylim[1] + 1)])
    ax.tick_params(direction='in', top=True, right=True, labelsize=fs,
                   length=5, width=1, pad=4)
    for s in ax.spines.values():
        s.set_linewidth(1.2)
    ax.text(name_xy[0], name_xy[1], name, transform=ax.transAxes,
            fontsize=name_fs, ha='left', va='center')


fig = plt.figure(figsize=(10.36, 13.72), dpi=100)

# top panel
ax0 = fig.add_axes([0.2075, 0.7456, 0.6216, 0.2398])
draw_panel(ax0, chem_line, chem_bars, (-1, 4), 'MIROC-ESM-CHEM',
           (0.043, 0.885), 18, 19, (1859, 2100), 1.4)
ax0.set_xlabel('year', fontsize=18, labelpad=6)
ax0.text(-0.105, 0.63, 'mm d$^{-1}$', transform=ax0.transAxes, rotation=90,
         fontsize=18, ha='center', va='center')
ax0.text(-0.107, 0.31, r'$^\circ$C', transform=ax0.transAxes, rotation=90,
         fontsize=18, ha='center', va='center', color=LINE_C)

# small panels
small = [
    (bnu_line, bnu_bars, (-2, 5), 'BNU-ESM', (0.04, 0.93), [0.0598, 0.4723]),
    (can_line, can_bars, (-1, 4), 'CanESM2', (0.044, 0.887), [0.5753, 0.4723]),
    (fgoals_line, fgoals_bars, (-1, 3), 'FGOALS-g2', (0.04, 0.854), [0.0598, 0.2456]),
    (miroc5_line, miroc5_bars, (-1, 5), 'MIROC5', (0.044, 0.908), [0.5753, 0.2456]),
    (mesm_line, mesm_bars, (-1, 3), 'MIROC-ESM', (0.04, 0.854), [0.0598, 0.0190]),
    (nor_line, nor_bars, (-1, 2), 'NorESM1-M', (0.044, 0.79), [0.5753, 0.0190]),
]
for line, bars, ylim, name, name_xy, pos in small:
    ax = fig.add_axes([pos[0], pos[1], 0.3953, 0.1742])
    draw_panel(ax, line, bars, ylim, name, name_xy, 13, 14.5, (1860.5, 2100), 1.0)
    ax.text(-0.11, 0.6, 'mm d$^{-1}$', transform=ax.transAxes, rotation=90,
            fontsize=13, ha='center', va='center')
    ax.text(-0.112, 0.28, r'$^\circ$C', transform=ax.transAxes, rotation=90,
            fontsize=13, ha='center', va='center', color=LINE_C)

fig.savefig('out.png', dpi=100)
